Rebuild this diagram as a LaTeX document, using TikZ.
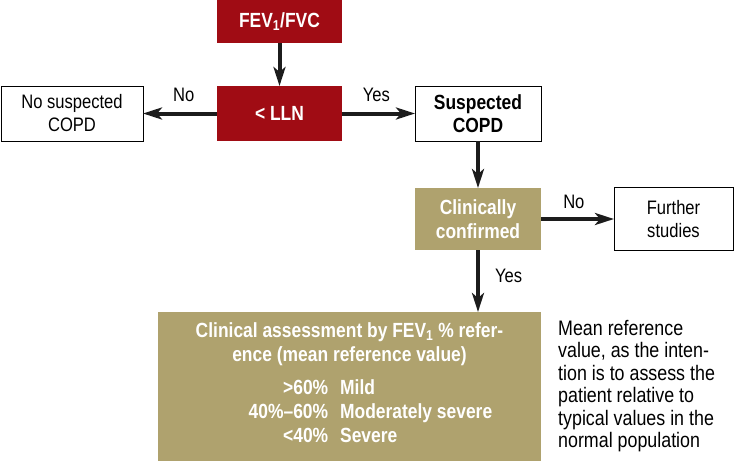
\documentclass[tikz,border=0pt]{standalone}
\usepackage{fontspec}
\setmainfont{Liberation Sans}[FakeStretch=0.85]
\usetikzlibrary{arrows.meta,positioning}
\definecolor{copdRed}{HTML}{A00C14}
\definecolor{copdTan}{HTML}{AFA26E}
\definecolor{arrowInk}{HTML}{1C1C1C}
\newcommand{\chartfont}{\fontsize{19.5}{23}\selectfont}
\newcommand{\chartbold}{\fontsize{20.5}{23.5}\selectfont\bfseries}
\newcommand{\notefont}{\fontsize{21}{22.4}\selectfont}

\begin{document}
\begin{tikzpicture}[
  x=1pt, y=1pt,
  basebox/.style={
    rectangle,
    inner sep=2pt,
    outer sep=0pt,
    align=center,
    font=\chartfont
  },
  redbox/.style={basebox, fill=copdRed, text=white, font=\chartbold},
  tanbox/.style={basebox, fill=copdTan, text=white, font=\chartbold},
  plainbox/.style={basebox, draw=black, line width=0.9pt, fill=white},
  flow/.style={-{Stealth[length=19pt,width=12pt,inset=5pt]}, draw=arrowInk, line width=4pt},
  answer/.style={font=\chartfont, inner sep=0pt, text depth=0pt}
]
\useasboundingbox (0,0) rectangle (734,-461);

\node[redbox, minimum width=125pt, minimum height=43pt] (fev) at (279.5,-21.5) {FEV\textsubscript{1}/FVC};
\node[redbox, minimum width=125pt, minimum height=55pt, below=43pt of fev] (lln) {< LLN};

\node[plainbox, minimum width=142pt, minimum height=55pt, left=74pt of lln] (nocopd) {No suspected\\COPD};
\node[plainbox, font=\chartbold, minimum width=126pt, minimum height=55pt, right=73pt of lln] (suspect) {Suspected\\COPD};

\node[tanbox, minimum width=126pt, minimum height=62pt, below=47pt of suspect] (confirm) {Clinically\\confirmed};
\node[plainbox, minimum width=119pt, minimum height=63pt, right=73pt of confirm] (further) {Further\\studies};

\node[tanbox, font=\chartbold\fontsize{20.5}{24}\selectfont, minimum width=383pt, minimum height=149pt,
      below=62pt of confirm.south east, anchor=north east] (assess)
  {Clinical assessment by FEV\textsubscript{1} \% refer-\\
   ence (mean reference value)\\[9pt]
   \hspace*{42pt}\begin{tabular}[t]{@{}r@{\hspace{12pt}}l@{}}
     >60\% & Mild\\
     40\%--60\% & Moderately severe\\
     <40\% & Severe
   \end{tabular}};

% Explanation beside the grading box.
\node[font=\notefont, align=left, inner sep=0pt,
      right=17pt of assess.north east, anchor=north west, yshift=-8pt] (note)
  {Mean reference\\value, as the inten-\\tion is to assess the\\patient relative to\\typical values in the\\normal population};

% Decision flow.
\draw[flow] (fev) -- (lln);
\draw[flow] (lln) -- node[answer, above=10pt, pos=0.45] {No} (nocopd);
\draw[flow] (lln) -- node[answer, above=10pt, pos=0.47] {Yes} (suspect);
\draw[flow] (suspect) -- (confirm);
\draw[flow] (confirm) -- node[answer, above=9pt, pos=0.45] {No} (further);
\draw[flow] (confirm.south) -- node[answer, right=15pt, pos=0.42] {Yes} (confirm.south |- assess.north);

\end{tikzpicture}
\end{document}
